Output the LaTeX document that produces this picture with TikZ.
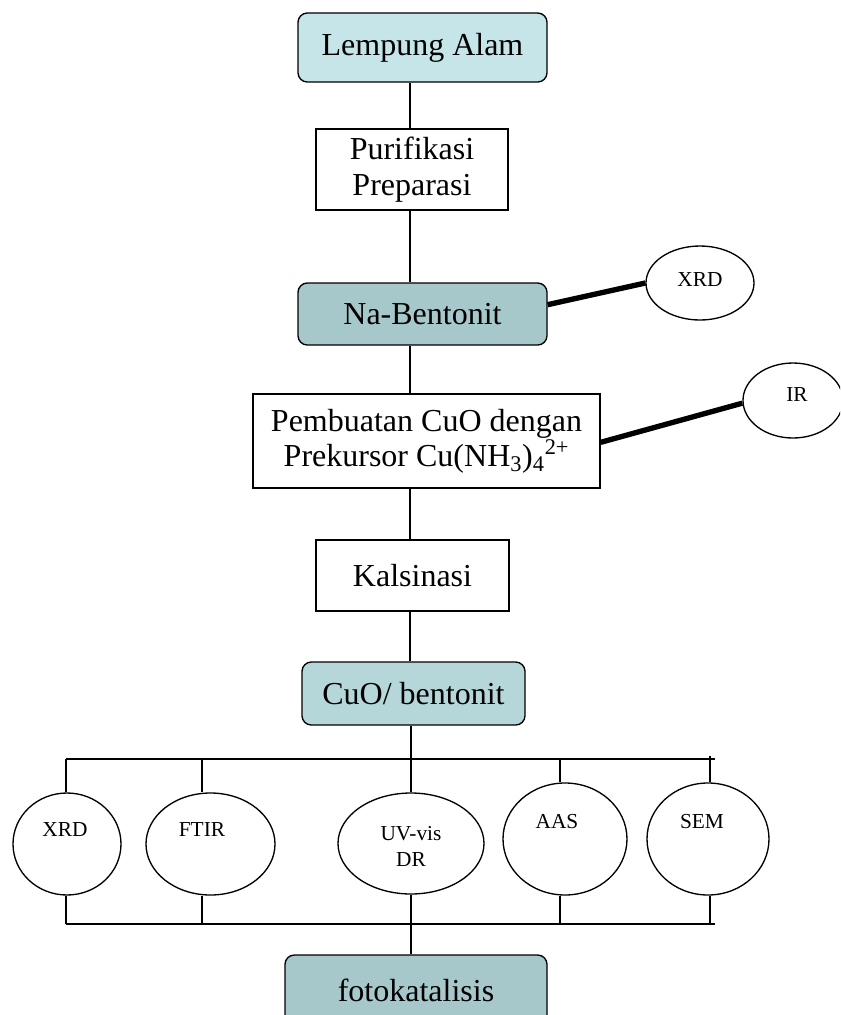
\documentclass[tikz,border=0pt]{standalone}
\usepackage{fontspec}
\setmainfont{Liberation Serif}
\usetikzlibrary{shapes.geometric,calc}
\definecolor{cyanA}{HTML}{C6E5E9}
\definecolor{cyanB}{HTML}{A6C8CB}
\definecolor{cyanC}{HTML}{B6D7DA}
\tikzset{
  big/.style={font=\fontsize{24}{26.5}\selectfont},
  small/.style={font=\fontsize{16}{19.5}\selectfont},
  plainbox/.style={draw=black, line width=1pt, fill=white, rectangle, align=center, inner sep=0pt, big},
  roundbox/.style={draw=black, line width=1pt, rectangle, rounded corners=7pt, align=center, inner sep=0pt, big},
  oval/.style={draw=black, line width=1pt, fill=white, ellipse, inner sep=0pt},
  link/.style={draw=black, line width=1pt},
  thicklink/.style={draw=black, line width=4pt},
}
\begin{document}
\begin{tikzpicture}[x=0.75pt,y=-0.75pt]
\path[use as bounding box] (0,0) rectangle (840,1015);
\clip (0,0) rectangle (840,1015);
\fill[white] (0,0) rectangle (840,1015);

% spine coordinates
\coordinate (sp) at (410,0);
\coordinate (sp2) at (411,0);
\coordinate (busT) at (0,759);
\coordinate (busB) at (0,924);
\coordinate (xa) at (66,0);
\coordinate (xb) at (202,0);
\coordinate (xd) at (560,0);
\coordinate (xe) at (710,0);
\coordinate (busTL) at (66,759);
\coordinate (busTR) at (715,759);
\coordinate (busBL) at (66,924);
\coordinate (busBR) at (715,924);
\coordinate (tickE) at (710,756);

% main boxes
\node[roundbox, fill=cyanA, minimum width=249*0.75pt, minimum height=69*0.75pt] (lempung) at (422.5,47.5) {Lempung Alam};
\node[plainbox, minimum width=192*0.75pt, minimum height=81*0.75pt] (purif) at (412,169.5) {\raisebox{0pt}[\height][\depth]{}Purifikasi\\Preparasi};
\node[roundbox, fill=cyanB, minimum width=249*0.75pt, minimum height=62*0.75pt] (nabent) at (422.5,314) {Na-Bentonit};
\node[plainbox, minimum width=347*0.75pt, minimum height=94*0.75pt] (pemb) at (426.5,441) {Pembuatan CuO dengan\\Prekursor Cu(NH\textsubscript{3})\textsubscript{4}\textsuperscript{2+}};
\node[plainbox, minimum width=193*0.75pt, minimum height=71*0.75pt] (kals) at (412.5,575.5) {Kalsinasi};
\node[roundbox, fill=cyanC, minimum width=223*0.75pt, minimum height=63*0.75pt] (cuo) at (413.5,693.5) {CuO/ bentonit};
\node[roundbox, fill=cyanB, minimum width=262*0.75pt, minimum height=70*0.75pt] (foto) at (416,990) {fotokatalisis};

% side ellipses
\node[oval, minimum width=108*0.75pt, minimum height=74*0.75pt] (xrdA) at (700,283) {};
\node[small] (xrdAt) at (700,280) {XRD};
\node[oval, minimum width=100*0.75pt, minimum height=75*0.75pt] (ir) at (793,400.5) {};
\node[small] (irt) at (797,395) {IR};

% bottom ellipses
\node[oval, minimum width=108*0.75pt, minimum height=102*0.75pt] (e1) at (67,844) {};
\node[small] (e1t) at (65,830) {XRD};
\node[oval, minimum width=129*0.75pt, minimum height=102*0.75pt] (e2) at (210.5,844) {};
\node[small] (e2t) at (202,830) {FTIR};
\node[oval, minimum width=146*0.75pt, minimum height=101*0.75pt] (e3) at (411,843.5) {};
\node[small, align=center] (e3t) at (411,846) {UV-vis\\DR};
\node[oval, minimum width=124*0.75pt, minimum height=112*0.75pt] (e4) at (565,839) {};
\node[small] (e4t) at (557,822) {AAS};
\node[oval, minimum width=122*0.75pt, minimum height=112*0.75pt] (e5) at (708,839) {};
\node[small] (e5t) at (702,822) {SEM};

% vertical spine
\draw[link] (lempung.south -| sp) -- (purif.north -| sp);
\draw[link] (purif.south -| sp) -- (nabent.north -| sp);
\draw[link] (nabent.south -| sp) -- (pemb.north -| sp);
\draw[link] (pemb.south -| sp) -- (kals.north -| sp);
\draw[link] (kals.south -| sp) -- (cuo.north -| sp);
\draw[link] (cuo.south -| sp2) -- (e3.north -| sp2);
\draw[link] (e3.south -| sp2) -- (foto.north -| sp2);

% side thick links
\draw[thicklink] ([yshift=7pt]nabent.east) -- (xrdA.west);
\draw[thicklink] ([yshift=-1pt]pemb.east) -- ([yshift=-2pt]ir.west);

% top bus
\draw[link] (busTL) -- (busTR);
\draw[link] (busTL) -- (e1.north -| xa);
\draw[link] (xb |- busT) -- (e2.north -| xb);
\draw[link] (xd |- busT) -- (e4.north -| xd);
\draw[link] (tickE) -- (e5.north -| xe);

% bottom bus
\draw[link] (busBL) -- (busBR);
\draw[link] (e1.south -| xa) -- (busBL);
\draw[link] (e2.south -| xb) -- (xb |- busB);
\draw[link] (e4.south -| xd) -- (xd |- busB);
\draw[link] (e5.south -| xe) -- (xe |- busB);
\end{tikzpicture}
\end{document}
